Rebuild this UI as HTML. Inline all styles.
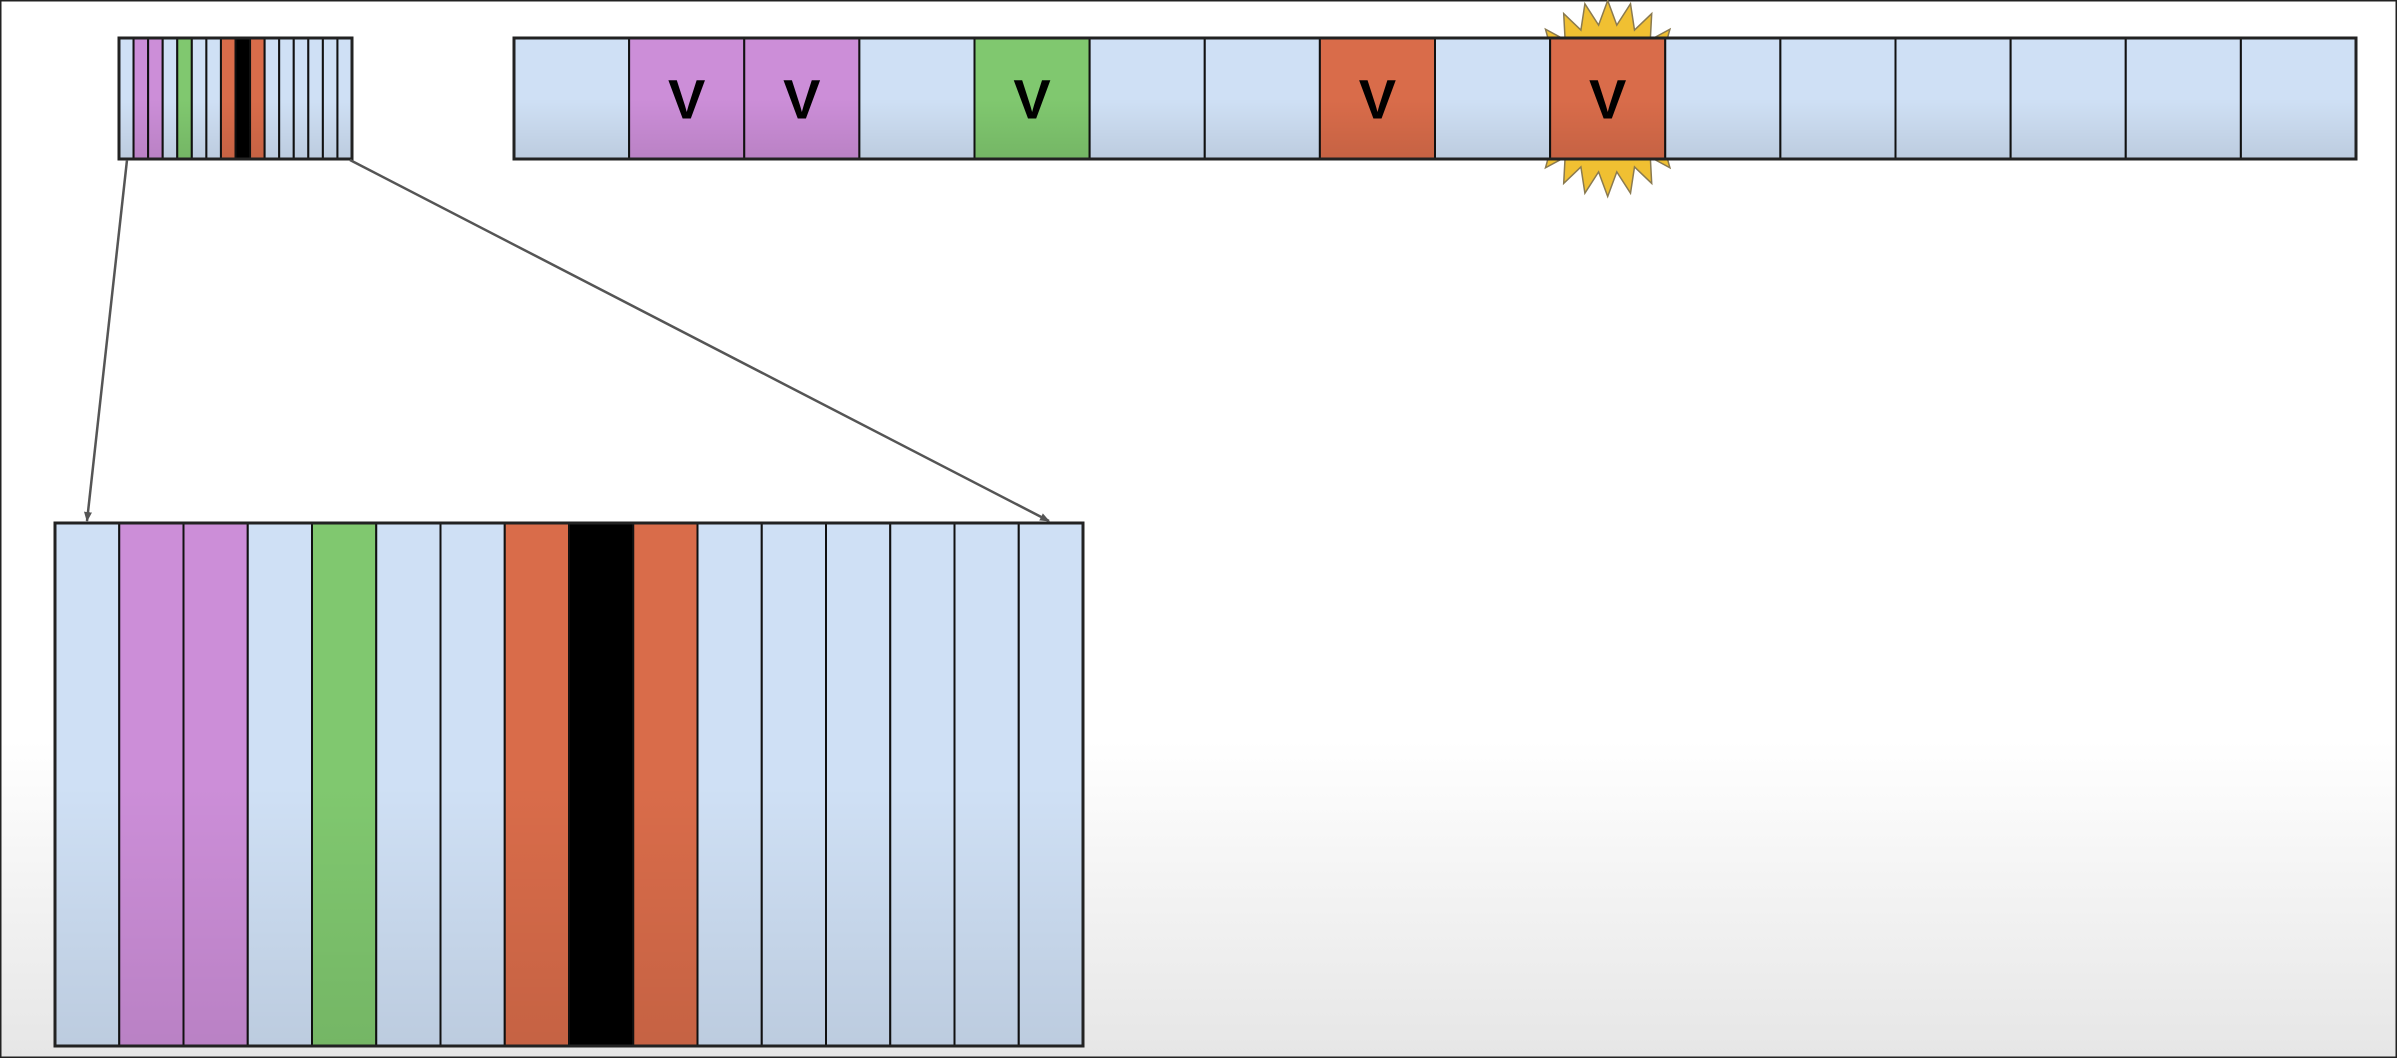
<!DOCTYPE html>
<html><head><meta charset="utf-8"><style>
html,body{margin:0;padding:0;background:#fff}
svg{display:block}
</style></head><body>
<svg id="chart" width="2397" height="1058" viewBox="0 0 2397 1058" xmlns="http://www.w3.org/2000/svg">
<defs>
<linearGradient id="bg" x1="0" y1="0" x2="0" y2="1">
<stop offset="0" stop-color="#ffffff"/><stop offset="0.7" stop-color="#ffffff"/><stop offset="1" stop-color="#e6e6e6"/>
</linearGradient>
<linearGradient id="shade" x1="0" y1="0" x2="0" y2="1">
<stop offset="0" stop-color="#000" stop-opacity="0"/><stop offset="0.5" stop-color="#000" stop-opacity="0"/><stop offset="1" stop-color="#000" stop-opacity="0.09"/>
</linearGradient>
<marker id="ah" markerWidth="10" markerHeight="10" refX="9" refY="5" orient="auto" markerUnits="userSpaceOnUse">
<path d="M0,1 L10,5 L0,9 z" fill="#555"/>
</marker>
</defs>
<rect x="0" y="0" width="2397" height="1058" fill="url(#bg)" stroke="#222" stroke-width="3"/>
<g id="layer"></g>
</svg>
<script>
const cellKinds = ['e','p','p','e','g','e','e','o','k','o','e','e','e','e','e','e'];
const topKinds  = ['e','p','p','e','g','e','e','o','e','o','e','e','e','e','e','e'];
const topLabels = ['','V','V','','V','','','V','','V','','','','','',''];
const hitIndex = [9];
const colors = {e:'#cfe0f5',p:'#cc8ed8',g:'#80c86f',o:'#d96c4a',k:'#000000'};
const NS='http://www.w3.org/2000/svg';
const layer=document.getElementById('layer');
function mk(t,a){const e=document.createElementNS(NS,t);for(const k in a)e.setAttribute(k,a[k]);layer.appendChild(e);return e;}
function strip(x0,y0,w,h,kinds,labels,name,sw){
  const cw=w/kinds.length;
  kinds.forEach((k,i)=>{
    const r=mk('rect',{x:x0+i*cw,y:y0,width:cw,height:h,fill:colors[k],stroke:'#111','stroke-width':sw});
    
    
    if(labels&&labels[i]){
      const t=mk('text',{x:x0+i*cw+cw/2,y:y0+h/2+20,'text-anchor':'middle','font-family':'Liberation Sans, sans-serif','font-weight':'bold','font-size':'56',fill:'#000'});
      t.textContent=labels[i];
      
      
    }
  });
  const s=mk('rect',{x:x0,y:y0,width:w,height:h,fill:'url(#shade)',stroke:'#222','stroke-width':sw+1});
  
  
}
const TX=514,TW=1842,TY=38,TH=121,tcw=TW/topKinds.length;
hitIndex.forEach(hi=>{
  const cx=TX+hi*tcw+tcw/2, cy=TY+TH/2, n=24; let pts=[];
  for(let j=0;j<n*2;j++){
    const a=j*Math.PI/n, out=j%2===0;
    const rx=out?88:70, ry=out?98:74;
    pts.push((cx+rx*Math.cos(a)).toFixed(1)+','+(cy+ry*Math.sin(a)).toFixed(1));
  }
  const p=mk('polygon',{points:pts.join(' '),fill:'#f0c032',stroke:'#8a7a50','stroke-width':1.5});
  
  
});
strip(TX,TY,TW,TH,topKinds,topLabels,'top-strip',2);
strip(119,38,233,121,cellKinds,null,'mini-strip',2);
strip(55,523,1028,523,cellKinds,null,'zoom-strip',2);
const a1=mk('line',{x1:127,y1:160,x2:87,y2:521,stroke:'#555','stroke-width':2.5,'marker-end':'url(#ah)'});


const a2=mk('line',{x1:350,y1:160,x2:1049,y2:521,stroke:'#555','stroke-width':2.5,'marker-end':'url(#ah)'});


</script>
</body></html>
